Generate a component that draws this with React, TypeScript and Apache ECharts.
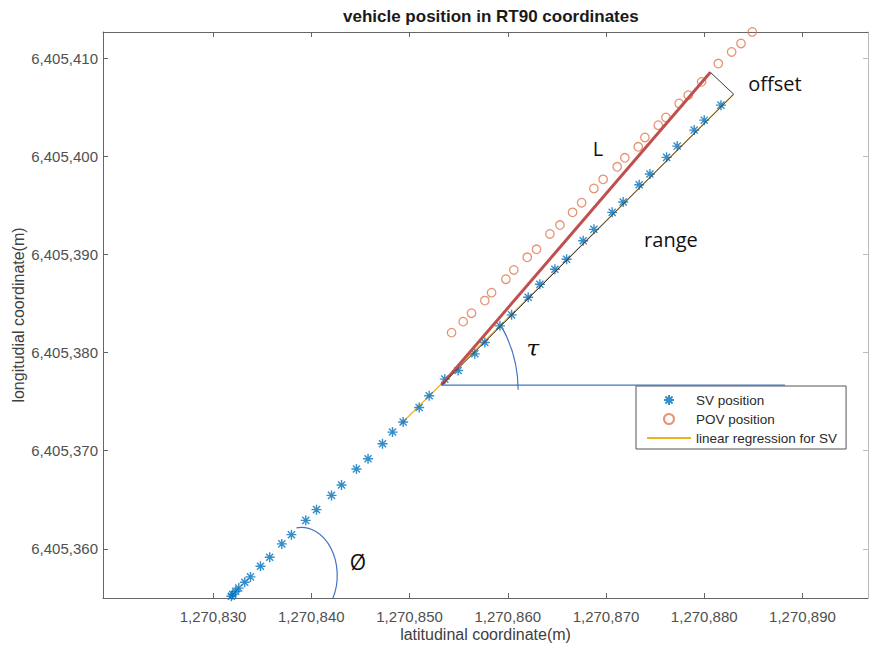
import React, { useEffect, useRef } from "react";
import * as echarts from "echarts";

// ---------- data (RT90 coordinates, metres) ----------
const svX = [
  1270831.63, 1270831.87, 1270832.0, 1270832.31, 1270832.62, 1270833.23, 1270833.81, 1270834.83,
  1270835.77, 1270837.0, 1270837.98, 1270839.44, 1270840.53, 1270842.06, 1270843.08, 1270844.6,
  1270845.78, 1270847.25, 1270848.27, 1270849.35, 1270850.98, 1270852.0, 1270853.59, 1270854.95,
  1270856.65, 1270857.67, 1270859.2, 1270860.39, 1270862.08, 1270863.27, 1270864.8, 1270865.99,
  1270867.68, 1270868.77, 1270870.63, 1270871.75, 1270873.38, 1270874.47, 1270876.17, 1270877.25,
  1270878.98, 1270880.0, 1270881.7,
];
const svY = [
  6405354.94, 6405355.18, 6405355.35, 6405355.69, 6405356.01, 6405356.6, 6405357.15, 6405358.23,
  6405359.15, 6405360.51, 6405361.45, 6405362.91, 6405364.0, 6405365.45, 6405366.51, 6405368.14,
  6405369.19, 6405370.71, 6405371.9, 6405372.92, 6405374.4, 6405375.6, 6405377.29, 6405378.17,
  6405379.87, 6405381.02, 6405382.72, 6405383.84, 6405385.64, 6405386.96, 6405388.48, 6405389.5,
  6405391.39, 6405392.55, 6405394.28, 6405395.33, 6405397.09, 6405398.18, 6405399.88, 6405401.03,
  6405402.66, 6405403.67, 6405405.2,
];
const povX = [
  1270854.28, 1270855.46, 1270856.31, 1270857.67, 1270858.35, 1270859.81, 1270860.62, 1270861.98,
  1270862.93, 1270864.29, 1270865.31, 1270866.6, 1270867.52, 1270868.77, 1270869.71, 1270871.14,
  1270871.92, 1270873.28, 1270873.96, 1270875.32, 1270876.1, 1270877.45, 1270878.37, 1270879.73,
  1270881.43, 1270882.79, 1270883.74, 1270884.89,
];
const povY = [
  6405382.03, 6405383.15, 6405384.01, 6405385.29, 6405386.1, 6405387.47, 6405388.41, 6405389.7,
  6405390.52, 6405392.08, 6405392.99, 6405394.28, 6405395.26, 6405396.72, 6405397.64, 6405398.92,
  6405399.84, 6405400.96, 6405401.91, 6405403.16, 6405403.95, 6405405.37, 6405406.22, 6405407.57,
  6405409.44, 6405410.62, 6405411.48, 6405412.66,
];
const regX = [1270849.1, 1270883.0];
const regY = [6405372.7, 6405406.3];

const xTicks = [1270830, 1270840, 1270850, 1270860, 1270870, 1270880, 1270890];
const yTicks = [6405360, 6405370, 6405380, 6405390, 6405400, 6405410];
const xRange = [1270818.8, 1270896.67];
const yRange = [6405355.0, 6405412.65];

// ---------- annotation anchors (data units) ----------
const ORIGIN = [1270853.26, 6405376.69];
const L_END = [1270880.63, 6405408.54];
const RANGE_END = [1270882.99, 6405406.32];
const HORIZ_END = [1270888.22, 6405376.69];
const TAU_ARC = [[1270859.37, 6405382.64], [1270861.06, 6405376.21]];
const PHI_ARC = [[1270838.49, 6405362.14], [1270842.19, 6405354.94]];
const LABELS = [
  { text: "L", at: [1270869.18, 6405400.82], size: 20, family: "Open Sans", style: "normal" },
  { text: "offset", at: [1270887.2, 6405407.44], size: 20, family: "Open Sans", style: "normal" },
  { text: "range", at: [1270876.61, 6405391.47], size: 20, family: "Open Sans", style: "normal" },
  { text: "τ", at: [1270862.56, 6405380.48], size: 23, family: "DejaVu Serif", style: "italic" },
  { text: "Ø", at: [1270844.74, 6405358.71], size: 21, family: "Open Sans", style: "normal" },
];

const zip = (a: number[], b: number[]) => a.map((v, i) => [v, b[i]]);
const FONT = "'Liberation Sans', Arial, Helvetica, sans-serif";
const fmt = (v: number) => Math.round(v).toLocaleString("en-US");

export default function App() {
  const ref = useRef<HTMLDivElement>(null);
  useEffect(() => {
    if (!ref.current) return;
    const chart = echarts.init(ref.current, null, { renderer: "svg" });
    const axisCommon = {
      type: "value" as const,
      axisLine: { show: true, lineStyle: { color: "#666", width: 1 } },
      splitLine: { show: false },
    };
    chart.setOption({
      animation: false,
      backgroundColor: "#fff",
      title: {
        text: "vehicle position in RT90 coordinates",
        left: 338,
        top: 3,
        textStyle: { fontFamily: FONT, fontSize: 17, fontWeight: "bold", color: "#1a1a1a" },
      },
      grid: { left: 103, right: 1, top: 32, bottom: 53, outerBoundsMode: "none" },
      legend: {
        data: [
          "SV position",
          "POV position",
          { name: "linear regression for SV", itemStyle: { opacity: 0 } },
        ],
        orient: "vertical",
        left: 636,
        top: 386,
        padding: [7, 9, 4, 10],
        itemGap: 5,
        itemWidth: 44,
        itemHeight: 10,
        borderColor: "#555",
        borderWidth: 1,
        borderRadius: 0,
        backgroundColor: "#fff",
        textStyle: { fontFamily: FONT, fontSize: 13.5, color: "#2a2a2a" },
      },
      xAxis: [
        {
          ...axisCommon,
          position: "bottom",
          min: xRange[0],
          max: xRange[1],
          name: "latitudinal coordinate(m)",
          nameLocation: "middle",
          nameGap: 28,
          nameMoveOverlap: false,
          nameTextStyle: { fontFamily: FONT, fontSize: 16, color: "#404040" },
          axisTick: { show: true, inside: true, length: 5, customValues: xTicks, lineStyle: { color: "#666" } },
          axisLabel: { customValues: xTicks, formatter: fmt, margin: 11, fontFamily: FONT, fontSize: 15, color: "#505050" },
        },
        {
          ...axisCommon,
          position: "top",
          min: xRange[0],
          max: xRange[1],
          axisTick: { show: true, inside: true, length: 5, customValues: xTicks, lineStyle: { color: "#666" } },
          axisLabel: { show: false },
        },
      ],
      yAxis: [
        {
          ...axisCommon,
          position: "left",
          min: yRange[0],
          max: yRange[1],
          name: "longitudial coordinate(m)",
          nameLocation: "middle",
          nameGap: 77,
          nameMoveOverlap: false,
          nameTextStyle: { fontFamily: FONT, fontSize: 16, color: "#404040" },
          axisTick: { show: true, inside: true, length: 5, customValues: yTicks, lineStyle: { color: "#666" } },
          axisLabel: { customValues: yTicks, formatter: fmt, margin: 5, fontFamily: FONT, fontSize: 15, color: "#505050" },
        },
        {
          ...axisCommon,
          position: "right",
          min: yRange[0],
          max: yRange[1],
          axisLine: { show: true, lineStyle: { color: "#bbb", width: 1 } },
          axisTick: { show: true, inside: true, length: 5, customValues: yTicks, lineStyle: { color: "#bbb" } },
          axisLabel: { show: false },
        },
      ],
      series: [
        {
          name: "linear regression for SV",
          type: "line",
          data: zip(regX, regY),
          symbol: "none",
          lineStyle: { color: "#EDB120", width: 1.2 },
          itemStyle: { color: "#EDB120", opacity: 0 },
          z: 2,
        },
        {
          name: "SV position",
          type: "scatter",
          data: zip(svX, svY),
          symbol: "path://M0 5L10 5M5 0L5 10M1.46 1.46L8.54 8.54M1.46 8.54L8.54 1.46",
          symbolSize: 10,
          itemStyle: { color: "rgba(0,0,0,0)", borderColor: "#0072BD", borderWidth: 1.4 },
          z: 3,
        },
        {
          name: "POV position",
          type: "scatter",
          data: zip(povX, povY),
          symbol: "circle",
          symbolSize: 8.5,
          itemStyle: { color: "rgba(0,0,0,0)", borderColor: "#E0784F", borderWidth: 1.3 },
          z: 3,
        },
        {
          name: "L",
          type: "line",
          data: [ORIGIN, L_END],
          symbol: "none",
          lineStyle: { color: "#C0504D", width: 3 },
          z: 4,
        },
        {
          name: "range",
          type: "line",
          data: [ORIGIN, RANGE_END, L_END],
          symbol: "none",
          lineStyle: { color: "#3a3a3a", width: 1 },
          z: 4,
        },
        {
          name: "horizontal",
          type: "line",
          data: [ORIGIN, HORIZ_END],
          symbol: "none",
          lineStyle: { color: "#4472C4", width: 1.2 },
          z: 10,
        },
        {
          name: "annotations",
          type: "custom",
          data: [ORIGIN],
          z: 10,
          renderItem: (_params: any, api: any) => {
            const t0 = api.coord(TAU_ARC[0]);
            const t1 = api.coord(TAU_ARC[1]);
            const p0 = api.coord(PHI_ARC[0]);
            const p1 = api.coord(PHI_ARC[1]);
            const children: any[] = [
              {
                type: "path",
                shape: { pathData: `M${t0[0]} ${t0[1]} A130 130 0 0 1 ${t1[0]} ${t1[1]}` },
                style: { fill: "none", stroke: "#4472C4", lineWidth: 1.2 },
              },
              {
                type: "path",
                shape: { pathData: `M${p0[0]} ${p0[1]} A36 48 0 0 1 ${p1[0]} ${p1[1]}` },
                style: { fill: "none", stroke: "#4472C4", lineWidth: 1.2 },
              },
            ];
            LABELS.forEach((l) => {
              const c = api.coord(l.at);
              children.push({
                type: "text",
                x: c[0],
                y: c[1],
                style: {
                  text: l.text,
                  fill: "#111",
                  fontSize: l.size,
                  fontFamily: l.family,
                  fontStyle: l.style,
                  align: "center",
                  verticalAlign: "middle",
                },
              });
            });
            return { type: "group", children };
          },
        },
      ],
    });
    return () => chart.dispose();
  }, []);
  return (
    <div
      ref={ref}
      style={{ position: "absolute", left: 0, top: 0, width: 869, height: 651, background: "#fff" }}
    />
  );
}
